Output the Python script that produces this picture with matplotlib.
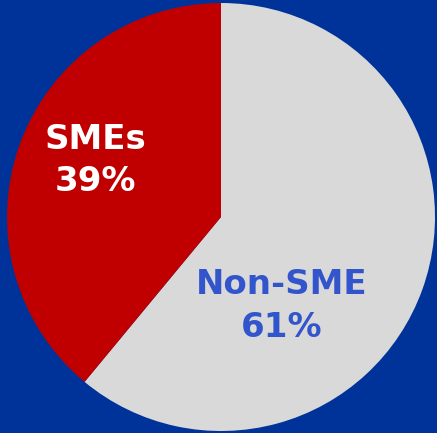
import matplotlib
matplotlib.use("Agg")
import matplotlib.pyplot as plt

# data
labels = ["Non-SME", "SMEs"]
shares = [61, 39]
colors = ["#D9D9D9", "#C00000"]
text_colors = ["#3355CC", "white"]
label_pos = [(0.285, -0.416), (-0.589, 0.262)]

W, H = 437, 433
cx, cy, r = 221, 217, 214

fig = plt.figure(figsize=(W / 100, H / 100), dpi=100)
fig.patch.set_facecolor("#003399")
ax = fig.add_axes([0, 0, 1, 1])
ax.set_facecolor("#003399")

ax.pie(shares, colors=colors, startangle=90, counterclock=False,
       radius=1, center=(0, 0), wedgeprops=dict(linewidth=0))

for lab, val, tc, (x, y) in zip(labels, shares, text_colors, label_pos):
    ax.text(x, y, f"{lab}\n{val}%", ha="center", va="center", color=tc,
            fontsize=24.5, fontweight="bold", family="DejaVu Sans", linespacing=1.35)

ax.set_xlim(-cx / r, (W - cx) / r)
ax.set_ylim(-(H - cy) / r, cy / r)
ax.set_aspect("auto")
ax.axis("off")

fig.savefig("out.png", dpi=100, facecolor=fig.get_facecolor())
